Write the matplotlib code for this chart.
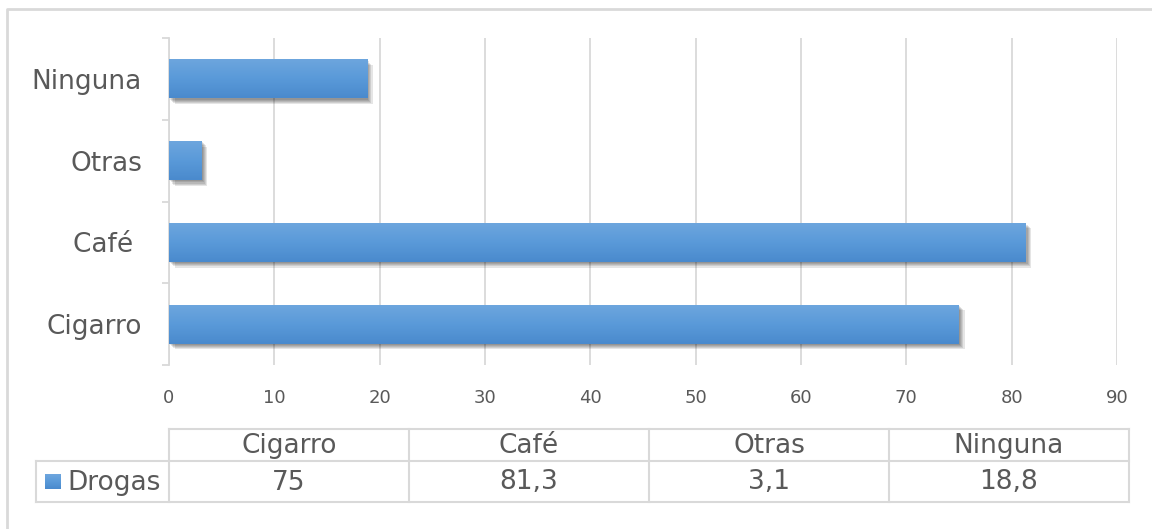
import numpy as np
import matplotlib
matplotlib.use("Agg")
import matplotlib.pyplot as plt
import matplotlib.patheffects as pe
from matplotlib.colors import LinearSegmentedColormap

categories = ["Cigarro", "Café", "Otras", "Ninguna"]
tick_labels = ["Cigarro", "Café ", "Otras", "Ninguna"]
values = [75, 81.3, 3.1, 18.8]
value_labels = ["75", "81,3", "3,1", "18,8"]
series_name = "Drogas"
x_ticks = [0, 10, 20, 30, 40, 50, 60, 70, 80, 90]

W, H = 1152, 529
text_col = "#595959"
line_col = "#d9d9d9"
grad = LinearSegmentedColormap.from_list("bar", ["#4a8acd", "#5a9ad9", "#6ea6de"])

fig = plt.figure(figsize=(W / 100, H / 100), dpi=100)
plt.rcParams['font.family'] = ['DejaVu Sans']

# main chart area (pixel box 169..1117 x 38..365)
ax = fig.add_axes([169 / W, 1 - 365 / H, (1117 - 169) / W, (365 - 38) / H])
ypos = np.arange(len(categories))
# soft shadow: a few stacked offsets with low alpha
shadow = [pe.SimplePatchShadow(offset=(d, -d), shadow_rgbFace="#000000", alpha=0.1)
          for d in (0.8, 1.6, 2.4, 3.2, 4.0)]
bars = ax.barh(ypos, values, height=0.48, color="#5b9bd5", zorder=3,
               path_effects=shadow + [pe.Normal()])

# vertical gradient on each bar
g = np.linspace(0, 1, 64).reshape(-1, 1)
for b in bars:
    x0, y0, w, h = b.get_x(), b.get_y(), b.get_width(), b.get_height()
    im = ax.imshow(g, cmap=grad, extent=[x0, x0 + w, y0, y0 + h], origin="lower",
                   aspect="auto", zorder=4)
    im.set_clip_path(b)

ax.set_xlim(0, 90)
ax.set_ylim(-0.5, len(categories) - 0.5)
ax.set_xticks(x_ticks)
ax.set_xticklabels([str(t) for t in x_ticks], fontsize=13, color=text_col)
ax.tick_params(axis="x", length=0, pad=17)
ax.set_yticks(ypos)
ax.set_yticklabels(tick_labels, fontsize=19, color=text_col)
ax.set_yticks(np.arange(len(categories) + 1) - 0.5, minor=True)
ax.tick_params(axis="y", which="major", length=0, pad=19.5)
ax.tick_params(axis="y", which="minor", length=5, color=line_col, width=1.3)
ax.grid(axis="x", color=line_col, linewidth=1.3, zorder=0)
for s in ["top", "right", "bottom"]:
    ax.spines[s].set_visible(False)
ax.spines["left"].set_color(line_col)
ax.spines["left"].set_linewidth(1.3)
ax.set_axisbelow(True)

# overlay in pixel coordinates for the data table and outer border
ov = fig.add_axes([0, 0, 1, 1], zorder=-1)
ov.set_xlim(0, W)
ov.set_ylim(H, 0)
ov.axis("off")

ov.plot([7, 7, W + 5], [H + 5, 9, 9], color=line_col, lw=2)

col_left, col_w = 169, 240
top, mid, bot = 429, 461, 502
n = len(categories)
right = col_left + n * col_w
lw = 1.5
ov.plot([col_left, right], [top, top], color=line_col, lw=lw)
ov.plot([36, right], [mid, mid], color=line_col, lw=lw)
ov.plot([36, right], [bot, bot], color=line_col, lw=lw)
ov.plot([36, 36], [mid, bot], color=line_col, lw=lw)
for i in range(n + 1):
    xx = col_left + i * col_w
    ov.plot([xx, xx], [top, bot], color=line_col, lw=lw)

for i, (c, v) in enumerate(zip(categories, value_labels)):
    cx = col_left + (i + 0.5) * col_w
    ov.text(cx, (top + mid) / 2 + 1, c, ha="center", va="center", fontsize=19, color=text_col)
    ov.text(cx, (mid + bot) / 2 + 1, v, ha="center", va="center", fontsize=19, color=text_col)

# legend key
key = np.linspace(0, 1, 32).reshape(-1, 1)
ov.imshow(key, cmap=grad, extent=[45, 61, 489, 474], aspect="auto", origin="lower")
ov.set_xlim(0, W)
ov.set_ylim(H, 0)
ov.text(67, (mid + bot) / 2 + 1, series_name, ha="left", va="center", fontsize=19, color=text_col)

fig.savefig("out.png", dpi=100)
